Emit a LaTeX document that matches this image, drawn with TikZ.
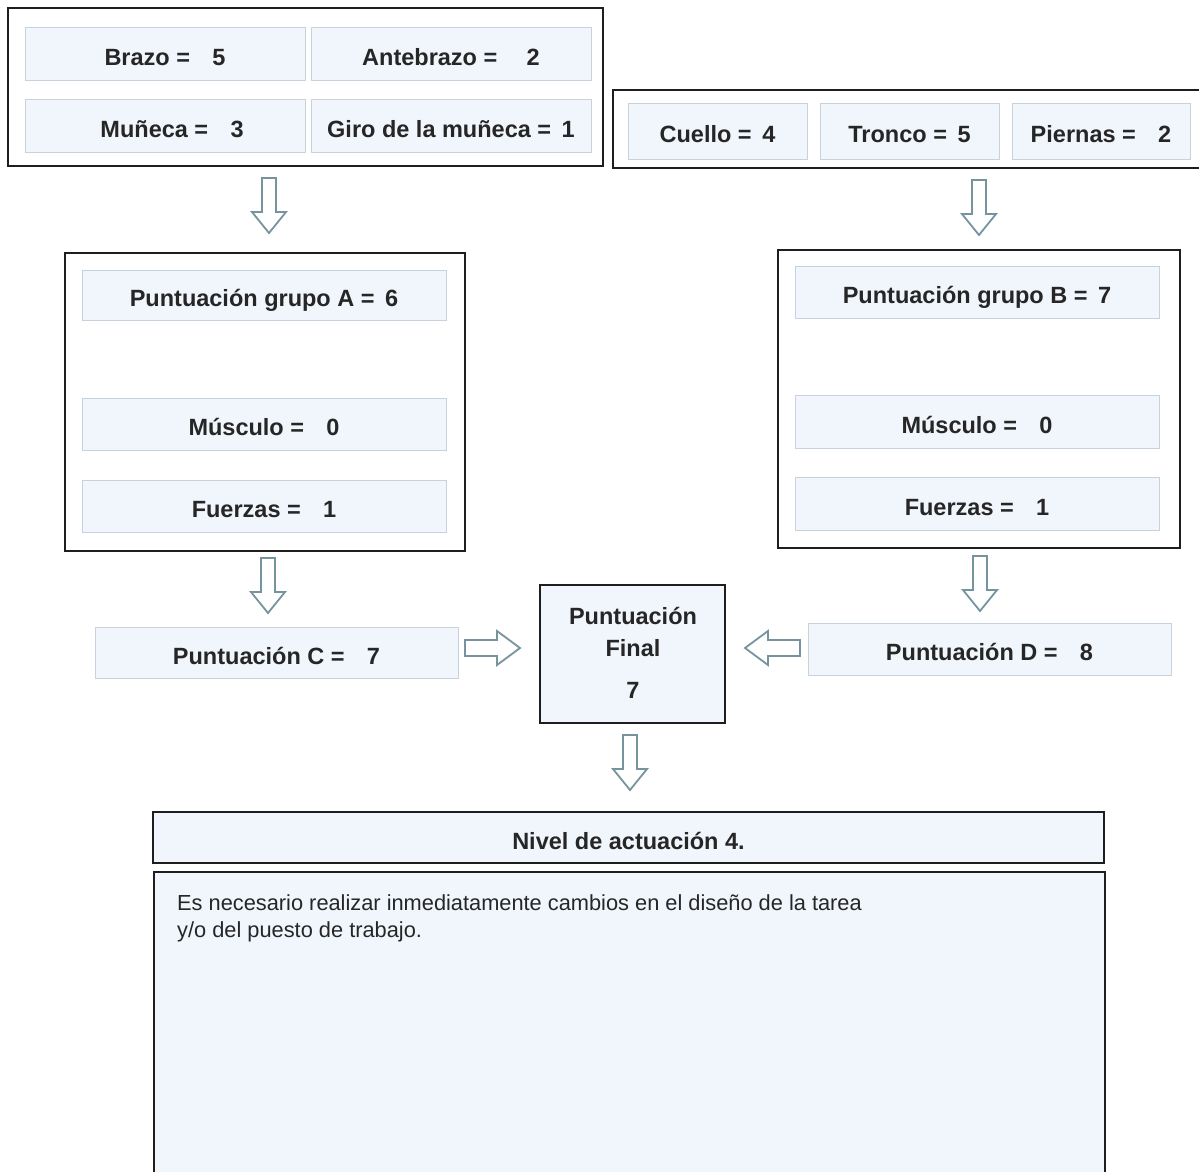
\documentclass[tikz,border=0pt]{standalone}
\usepackage{fontspec}
\setmainfont{Liberation Sans}
\definecolor{cellfill}{RGB}{240,246,252}
\definecolor{cellline}{RGB}{200,210,220}
\definecolor{arrowline}{RGB}{118,148,158}
\definecolor{boxline}{RGB}{30,30,30}
\definecolor{txt}{RGB}{38,38,38}
\tikzset{
  cell/.style={draw=cellline, line width=1pt, fill=cellfill, inner sep=0pt, text=txt,
    text height=23pt, text depth=0pt,
    font=\fontsize{23.5}{28}\selectfont\bfseries},
  outerbox/.style={draw=boxline, line width=1.6pt, fill=white, inner sep=0pt},
  bluebox/.style={draw=boxline, line width=1.6pt, fill=cellfill, inner sep=0pt, text=txt,
    text height=24pt, text depth=0pt,
    font=\fontsize{23.5}{28}\selectfont\bfseries},
  boldtext/.style={text=txt, inner sep=0pt, anchor=base, font=\fontsize{23.5}{28}\selectfont\bfseries},
  bodytext/.style={text=txt, inner sep=0pt, anchor=base west, font=\fontsize{21.8}{27}\selectfont},
  blockarrow/.style={draw=arrowline, line width=1.8pt, fill=white, line join=miter},
  downarrow/.pic={\path[blockarrow] (-7,0) -- (7,0) -- (7,34) -- (17,34) -- (0,55) -- (-17,34) -- (-7,34) -- cycle;},
  rightarrow/.pic={\path[blockarrow] (0,-8) -- (32,-8) -- (32,-17) -- (55,0) -- (32,17) -- (32,8) -- (0,8) -- cycle;},
  leftarrow/.pic={\path[blockarrow] (0,-8) -- (-32,-8) -- (-32,-17) -- (-55,0) -- (-32,17) -- (-32,8) -- (0,8) -- cycle;}
}
\newcommand{\gs}{\hspace{0.45em}}
\newcommand{\gl}{\hspace{0.95em}}
\begin{document}
\begin{tikzpicture}[x=1pt,y=-1pt]
\useasboundingbox (0,0) rectangle (1199,1172);
\clip (0,0) rectangle (1199,1172);
\fill[white] (0,0) rectangle (1199,1172);

% group A inputs
\node[outerbox, minimum width=595pt, minimum height=158pt] (box1) at (305.5,87) {};
\node[cell, minimum width=280pt, minimum height=52pt] (brazo) at (165,54) {Brazo =\gl 5};
\node[cell, minimum width=280pt, minimum height=52pt] (ante) at (451,54) {Antebrazo =\gl\hspace{0.3em}2};
\node[cell, minimum width=280pt, minimum height=53pt] (muneca) at (165,125.5) {\hspace{0.6em}Muñeca =\gl 3};
\node[cell, minimum width=280pt, minimum height=53pt] (giro) at (451,125.5) {Giro de la muñeca =\gs 1};

% group B inputs
\node[outerbox, minimum width=602pt, minimum height=78pt] (box2) at (914,129) {};
\node[cell, minimum width=179pt, minimum height=56pt] (cuello) at (717.5,131) {Cuello =\gs 4};
\node[cell, minimum width=179pt, minimum height=56pt] (tronco) at (909.5,131) {Tronco =\gs 5};
\node[cell, minimum width=178pt, minimum height=56pt] (piernas) at (1101,131) {Piernas =\gl 2};

% arrows down
\coordinate (a1) at (269,178);
\coordinate (a2) at (979,180);
\pic at (a1) {downarrow};
\pic at (a2) {downarrow};

% group A box
\node[outerbox, minimum width=400pt, minimum height=298pt] (boxA) at (265,402) {};
\node[cell, minimum width=364pt, minimum height=50pt] (gA) at (264,295) {Puntuación grupo A =\gs 6};
\node[cell, minimum width=364pt, minimum height=52pt] (mA) at (264,424) {Músculo =\gl 0};
\node[cell, minimum width=364pt, minimum height=52pt] (fA) at (264,506) {Fuerzas =\gl 1};

% group B box
\node[outerbox, minimum width=402pt, minimum height=298pt] (boxB) at (979,399) {};
\node[cell, minimum width=364pt, minimum height=52pt] (gB) at (977,292) {Puntuación grupo B =\gs 7};
\node[cell, minimum width=364pt, minimum height=53pt] (mB) at (977,421.5) {Músculo =\gl 0};
\node[cell, minimum width=364pt, minimum height=53pt] (fB) at (977,503.5) {Fuerzas =\gl 1};

\coordinate (a3) at (268,558);
\coordinate (a4) at (980,556);
\pic at (a3) {downarrow};
\pic at (a4) {downarrow};

% C, Final, D
\node[cell, minimum width=363pt, minimum height=51pt] (C) at (276.5,652.5) {Puntuación C =\gl 7};
\node[bluebox, minimum width=185pt, minimum height=138pt] (final) at (632.5,654) {};
\node[boldtext] (final1) at (633,624) {Puntuación};
\node[boldtext] (final2) at (633,656) {Final};
\node[boldtext] (final3) at (633,698) {7};
\node[cell, minimum width=363pt, minimum height=52pt] (D) at (989.5,649) {Puntuación D =\gl 8};

\coordinate (a5) at (465,648);
\coordinate (a6) at (800,648);
\pic at (a5) {rightarrow};
\pic at (a6) {leftarrow};

\coordinate (a7) at (630,735);
\pic at (a7) {downarrow};

% Nivel
\node[bluebox, minimum width=951pt, minimum height=51pt] (nivel) at (628.5,837.5) {Nivel de actuación 4.};
\node[bluebox, minimum width=951pt, minimum height=330pt, anchor=north west] (desc) at (153,871) {};
\node[bodytext] (desc1) at (177,910) {Es necesario realizar inmediatamente cambios en el diseño de la tarea};
\node[bodytext] (desc2) at (177,937) {y/o del puesto de trabajo.};
\end{tikzpicture}
\end{document}
